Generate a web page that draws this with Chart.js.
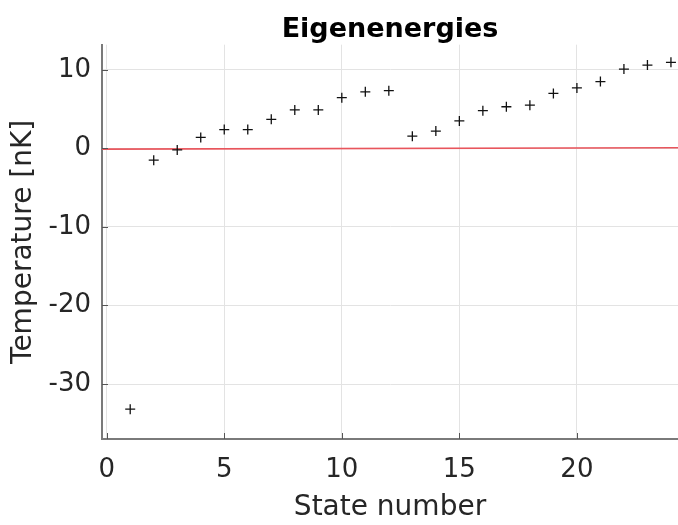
<!DOCTYPE html>
<html>
<head>
<meta charset="utf-8">
<script src="https://cdn.jsdelivr.net/npm/chart.js@4/dist/chart.umd.min.js"></script>
<style>
  body { margin: 0; background: #fff; }
</style>
</head>
<body>
<canvas id="grafico" width="678" height="525"></canvas>
<script>
var stateNumbers = [1, 2, 3, 4, 5, 6, 7, 8, 9, 10, 11, 12, 13, 14, 15, 16, 17, 18, 19, 20, 21, 22, 23, 24];
var energies = [-33.2, -1.5, -0.2, 1.4, 2.4, 2.4, 3.7, 4.9, 4.9, 6.45, 7.2, 7.35,
                1.55, 2.2, 3.5, 4.8, 5.3, 5.5, 7.0, 7.7, 8.5, 10.1, 10.6, 10.95];
var refLineX = [-0.2, 24.3];
var refLineY = [-0.1, 0.08];
var xTicks = [0, 5, 10, 15, 20];
var yTicks = [-30, -20, -10, 0, 10];

var fuente = "'DejaVu Sans', sans-serif";

// MATLAB style ticks pointing into the plot
var ticksDentro = {
    id: 'ticksDentro',
    afterDatasetsDraw: function (chart) {
        var ctx = chart.ctx;
        var area = chart.chartArea;
        var x = chart.scales.x, y = chart.scales.y;
        ctx.save();
        ctx.strokeStyle = '#555';
        ctx.lineWidth = 1;
        ctx.beginPath();
        yTicks.forEach(function (v) {
            var py = Math.round(y.getPixelForValue(v)) + 0.5;
            ctx.moveTo(area.left, py);
            ctx.lineTo(area.left + 6, py);
        });
        xTicks.forEach(function (v) {
            var px = Math.round(x.getPixelForValue(v)) + 0.5;
            ctx.moveTo(px, area.bottom);
            ctx.lineTo(px, area.bottom - 6);
        });
        ctx.stroke();
        ctx.restore();
    }
};

var ctx = document.getElementById("grafico").getContext("2d");
var myChart = new Chart(ctx, {
    type: "scatter",
    data: {
        datasets: [{
            label: "Eigenenergies",
            data: stateNumbers.map(function (n, i) { return { x: n, y: energies[i] }; }),
            pointStyle: "cross",
            pointRadius: 5,
            pointBorderWidth: 1.3,
            borderColor: "#111",
            backgroundColor: "#111",
            showLine: false
        }, {
            label: "ref",
            type: "line",
            data: refLineX.map(function (v, i) { return { x: v, y: refLineY[i] }; }),
            borderColor: "#e8555c",
            borderWidth: 1.6,
            pointRadius: 0,
            fill: false
        }]
    },
    options: {
        responsive: false,
        animation: false,
        devicePixelRatio: 1,
        layout: { padding: 0, autoPadding: false },
        plugins: {
            legend: { display: false },
            tooltip: { enabled: false },
            title: {
                display: true,
                text: "Eigenenergies",
                fullSize: false,
                color: "#000",
                font: { family: fuente, size: 27, weight: "bold", lineHeight: 1.1 },
                padding: { top: 15, bottom: 0 }
            }
        },
        scales: {
            x: {
                type: "linear",
                min: -0.2,
                max: 24.3,
                afterBuildTicks: function (scale) {
                    scale.ticks = xTicks.map(function (v) { return { value: v }; });
                },
                afterFit: function (scale) {
                    scale.height = 86;
                    scale.paddingLeft = 0;
                    scale.paddingRight = 0;
                },
                grid: { color: "#e3e3e3", lineWidth: 1, drawTicks: false },
                border: { color: "#7a7a7a", width: 2 },
                ticks: {
                    color: "#262626",
                    padding: 16,
                    maxRotation: 0,
                    font: { family: fuente, size: 26 }
                },
                title: {
                    display: true,
                    text: "State number",
                    color: "#262626",
                    font: { family: fuente, size: 28, lineHeight: 1.2 },
                    padding: { top: 0, bottom: 0 }
                }
            },
            y: {
                type: "linear",
                min: -37,
                max: 13.2,
                afterBuildTicks: function (scale) {
                    scale.ticks = yTicks.map(function (v) { return { value: v }; });
                },
                afterFit: function (scale) {
                    scale.width = 102;
                    scale.paddingTop = 0;
                    scale.paddingBottom = 0;
                },
                grid: { color: "#e3e3e3", lineWidth: 1, drawTicks: false },
                border: { color: "#7a7a7a", width: 2 },
                ticks: {
                    color: "#262626",
                    padding: 11,
                    font: { family: fuente, size: 26 }
                },
                title: {
                    display: true,
                    text: "Temperature [nK]",
                    color: "#262626",
                    font: { family: fuente, size: 28, lineHeight: 1.2 },
                    padding: { top: 7, bottom: 0 }
                }
            }
        }
    },
    plugins: [ticksDentro]
});
</script>
</body>
</html>
